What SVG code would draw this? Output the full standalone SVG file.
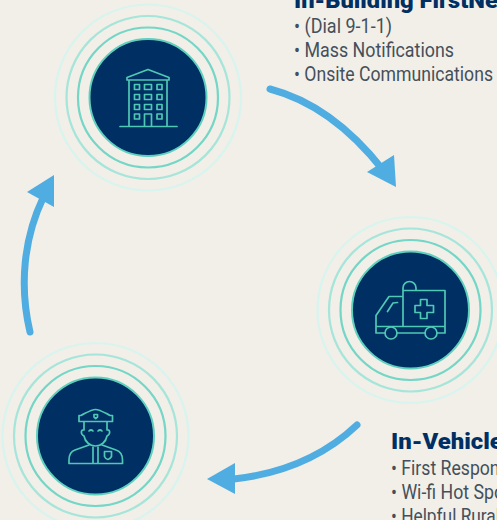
<svg xmlns="http://www.w3.org/2000/svg" width="497" height="520" viewBox="0 0 497 520">
<style>
.r0{fill:#002f63;stroke:#5fd0bd;stroke-width:2}
.r1{fill:none;stroke:#74d6c6;stroke-width:2.200}
.r2{fill:none;stroke:#a5e5da;stroke-width:2.200}
.r3{fill:none;stroke:#d8f4ef;stroke-width:2.200}
.ic{fill:none;stroke:#4fc8b4;stroke-width:1.700;stroke-linejoin:round;stroke-linecap:round}
.conn{fill:none;stroke:#4fade1;stroke-width:7;stroke-linecap:round}
.head{fill:#4fade1}
.t{font-family:"Roboto",sans-serif;font-weight:900;font-size:22px;fill:#002f63}
.b{font-family:"Roboto",sans-serif;font-size:19.500px;fill:#454f5b}
</style>
<rect width="497" height="520" fill="#f1efe8"/>
<g id="connectors">
<path class="conn" d="M270 89C312 100 350 128 383 170"/><polygon class="head" points="367,172 394,155 396,187"/>
<path class="conn" d="M357 425C322 458 279 474 234 479"/><polygon class="head" points="207,479 235,463 235,494"/>
<path class="conn" d="M30 332C19 285 24 238 43 198"/><polygon class="head" points="27,192 54,175 54,207"/>
</g>
<g id="node-building">
<circle class="r3" cx="148" cy="97.500" r="93"/><circle class="r2" cx="148" cy="97.500" r="81.500"/><circle class="r1" cx="148" cy="97.500" r="70"/><circle class="r0" cx="148" cy="97.500" r="58.500"/>
<path class="ic" d="M120 126.500H177M129 126.500V80M167 126.500V80M127 80V77.500L148 69.500L169 77.500V80ZM144.500 126.500V114H151.500V126.500"/>
<path class="ic" d="M134.500 84.500h5v5h-5zM144.500 84.500h7v5h-7zM157 84.500h5v5h-5zM134.500 94.500h5v5h-5zM144.500 94.500h7v5h-7zM157 94.500h5v5h-5zM134.500 104.500h5v5h-5zM144.500 104.500h7v5h-7zM157 104.500h5v5h-5zM134.500 114h5v5h-5zM157 114h5v5h-5z"/>
</g>
<g id="node-ambulance">
<circle class="r3" cx="410.500" cy="310" r="93"/><circle class="r2" cx="410.500" cy="310" r="81.500"/><circle class="r1" cx="410.500" cy="310" r="70"/><circle class="r0" cx="410.500" cy="310" r="58.500"/>
<path class="ic" d="M403 326.500V290.500H445V333H437M425 333H397M385 333H376V315.500L389 296.500H403M376 326.500H445M403 290.500V288A6.500 6.500 0 0 1 416 288V290.500M387.500 311.500L393 303L397.500 302.500"/>
<circle class="ic" cx="391" cy="333" r="6"/><circle class="ic" cx="431" cy="333" r="6"/>
<path class="ic" d="M420.500 299.500H427V305.500H433.500V312.500H427V318.500H420.500V312.500H415V305.500H420.500Z"/>
</g>
<g id="node-police">
<circle class="r3" cx="95.500" cy="436" r="93"/><circle class="r2" cx="95.500" cy="436" r="81.500"/><circle class="r1" cx="95.500" cy="436" r="70"/><circle class="r0" cx="95.500" cy="436" r="58.500"/>
<path class="ic" d="M79 421.500V415.500H81C86 413 91 409.500 95.500 409.500C100 409.500 105 413 110 415.500H112.500V421.500ZM84 421.500C84 426 84 428 84 430C81 429 80 434 84 436C85 442 90 446 95.500 446C101 446 106 442 107 436C111 434 110 429 107 430V421.500"/>
<path class="ic" d="M89 431Q91 429 93 431M98 431Q100 429 102 431M89 445L75 450Q69 452 69 460V463.500H122.500V460Q122.500 452 116 450L102 445M93 447V463.500M98 447V463.500M104.500 451.500H111.500V456.500Q110 459 108 459.500Q105.500 459 104.500 456.500ZM94 414.500H97.500V417L95.700 418.500L94 417Z"/>
</g>
<g id="label-building">
<text class="t" x="294" y="7.500" textLength="212" lengthAdjust="spacingAndGlyphs">In-Building FirstNet</text>
<text class="b" x="294" y="33" textLength="98" lengthAdjust="spacingAndGlyphs">• (Dial 9-1-1)</text>
<text class="b" x="294" y="57" textLength="160" lengthAdjust="spacingAndGlyphs">• Mass Notifications</text>
<text class="b" x="294" y="81" textLength="199" lengthAdjust="spacingAndGlyphs">• Onsite Communications</text>
</g>
<g id="label-vehicle">
<text class="t" x="391" y="449" textLength="205" lengthAdjust="spacingAndGlyphs">In-Vehicle FirstNet</text>
<text class="b" x="391" y="475" textLength="143" lengthAdjust="spacingAndGlyphs">• First Responders</text>
<text class="b" x="391" y="499" textLength="128" lengthAdjust="spacingAndGlyphs">• Wi-fi Hot Spots</text>
<text class="b" x="391" y="523" textLength="109" lengthAdjust="spacingAndGlyphs">• Helpful Rural</text>
</g>
</svg>
